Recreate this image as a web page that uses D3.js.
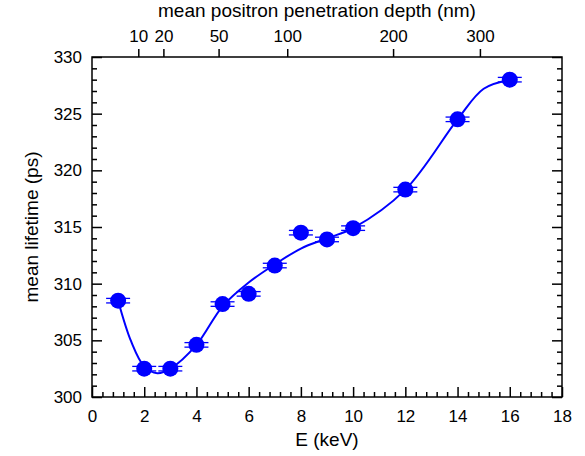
<!DOCTYPE html>
<html>
  <head>
    <meta charset="utf-8" />
    <title>mean lifetime vs E</title>
    <style>
      body { margin: 0; background: #fff; }
      text { font-family: "Liberation Sans", Arial, sans-serif; }
    </style>
  </head>
  <body>
  <div id="container"></div>
  <script src="https://cdn.jsdelivr.net/npm/d3@7/dist/d3.min.js"></script>
  <script type="text/javascript">

    // measured points
    var energy   = [1, 2, 3, 4, 5, 6, 7, 8, 9, 10, 12, 14, 16];
    var lifetime = [308.5, 302.5, 302.5, 304.6, 308.2, 309.1, 311.6, 314.5, 313.9, 314.9, 318.3, 324.5, 328.0];
    var lifetimeErr = [0.2, 0.2, 0.2, 0.2, 0.2, 0.2, 0.2, 0.2, 0.2, 0.2, 0.2, 0.2, 0.2];

    // fitted curve
    var fitE = [1, 1.5, 2, 2.5, 3, 4, 5, 6, 7, 8, 9, 10, 12, 14, 15, 16];
    var fitV = [308.5, 304.9, 302.7, 302.1, 302.5, 304.6, 308.0, 310.1, 311.7, 313.1, 314.0, 314.9, 318.3, 324.5, 327.2, 328.0];

    // tick values
    var xMajor = [0, 2, 4, 6, 8, 10, 12, 14, 16, 18];
    var yMajor = [300, 305, 310, 315, 320, 325, 330];
    var depthTicks = [10, 20, 50, 100, 200, 300];

    var width = 585;
    var height = 456;
    // plot box edges
    var pL = 92, pR = 562, pT = 57, pB = 397;

    var svg = d3.select('#container').append('svg')
      .attr('width', width).attr('height', height);

    var x = d3.scaleLinear().domain([0, 18]).range([pL, pR]);
    var y = d3.scaleLinear().domain([300, 330]).range([pB, pT]);
    // depth (nm) = 4 * E^1.6, so E grows as depth^(1/1.6)
    var xTop = d3.scalePow().exponent(1 / 1.6).domain([0, 4 * Math.pow(18, 1.6)]).range([pL, pR]);

    var xMinor = d3.range(0, 18.001, 0.4).filter(function(v){ return Math.abs(v / 2 - Math.round(v / 2)) > 1e-6; });
    var yMinor = d3.range(300, 330.001, 1).filter(function(v){ return v % 5 !== 0; });

    function style(g, size) {
      g.select('.domain').remove();
      g.selectAll('line').attr('stroke', '#000').attr('stroke-width', 1.5);
      g.selectAll('text').attr('font-size', size).attr('fill', '#000');
    }

    // bottom axis
    svg.append('g').attr('transform', 'translate(0,' + pB + ')')
      .call(d3.axisBottom(x).tickValues(xMinor).tickSize(-5).tickFormat(''))
      .call(style, 17);
    svg.append('g').attr('transform', 'translate(0,' + pB + ')')
      .call(d3.axisBottom(x).tickValues(xMajor).tickSize(-10).tickPadding(13).tickFormat(d3.format('d')))
      .call(style, 17);

    // left axis
    svg.append('g').attr('transform', 'translate(' + pL + ',0)')
      .call(d3.axisLeft(y).tickValues(yMinor).tickSize(-5).tickFormat(''))
      .call(style, 17);
    svg.append('g').attr('transform', 'translate(' + pL + ',0)')
      .call(d3.axisLeft(y).tickValues(yMajor).tickSize(-10).tickPadding(10).tickFormat(d3.format('d')))
      .call(style, 17);

    // right axis, ticks only
    svg.append('g').attr('transform', 'translate(' + pR + ',0)')
      .call(d3.axisRight(y).tickValues(yMinor).tickSize(-5).tickFormat(''))
      .call(style, 17);
    svg.append('g').attr('transform', 'translate(' + pR + ',0)')
      .call(d3.axisRight(y).tickValues(yMajor).tickSize(-10).tickFormat(''))
      .call(style, 17);

    // top axis: penetration depth
    svg.append('g').attr('transform', 'translate(0,' + pT + ')')
      .call(d3.axisTop(xTop).tickValues(depthTicks).tickSize(8).tickPadding(7).tickFormat(d3.format('d')))
      .call(style, 17);

    // frame
    svg.append('rect')
      .attr('x', pL).attr('y', pT)
      .attr('width', pR - pL).attr('height', pB - pT)
      .attr('fill', 'none').attr('stroke', '#000').attr('stroke-width', 1.5);

    // titles
    svg.append('text').attr('x', (pL + pR) / 2).attr('y', 446)
      .attr('text-anchor', 'middle').attr('font-size', 19).text('E (keV)');
    svg.append('text').attr('x', 317).attr('y', 17)
      .attr('text-anchor', 'middle').attr('font-size', 19).text('mean positron penetration depth (nm)');
    svg.append('text')
      .attr('transform', 'translate(38,' + ((pT + pB) / 2) + ') rotate(-90)')
      .attr('text-anchor', 'middle').attr('font-size', 19).text('mean lifetime (ps)');

    // fit curve
    var fit = fitE.map(function(e, i){ return [e, fitV[i]]; });
    var line = d3.line()
      .x(function(d){ return x(d[0]); })
      .y(function(d){ return y(d[1]); })
      .curve(d3.curveCatmullRom.alpha(0.5));
    svg.append('path').datum(fit)
      .attr('d', line)
      .attr('fill', 'none').attr('stroke', '#0000ff').attr('stroke-width', 2);

    // points with error caps
    var pts = energy.map(function(e, i){ return {e: e, v: lifetime[i], err: lifetimeErr[i]}; });
    var g = svg.append('g');
    var marks = g.selectAll('g.pt').data(pts).enter().append('g').attr('class', 'pt');
    marks.append('line')
      .attr('x1', function(d){ return x(d.e) - 12; })
      .attr('x2', function(d){ return x(d.e) + 12; })
      .attr('y1', function(d){ return y(d.v + d.err); })
      .attr('y2', function(d){ return y(d.v + d.err); })
      .attr('stroke', '#0000ff').attr('stroke-width', 1.3);
    marks.append('line')
      .attr('x1', function(d){ return x(d.e) - 12; })
      .attr('x2', function(d){ return x(d.e) + 12; })
      .attr('y1', function(d){ return y(d.v - d.err); })
      .attr('y2', function(d){ return y(d.v - d.err); })
      .attr('stroke', '#0000ff').attr('stroke-width', 1.3);
    marks.append('circle')
      .attr('cx', function(d){ return x(d.e); })
      .attr('cy', function(d){ return y(d.v); })
      .attr('r', 8)
      .attr('fill', '#0000ff');

  </script>
  </body>
</html>
